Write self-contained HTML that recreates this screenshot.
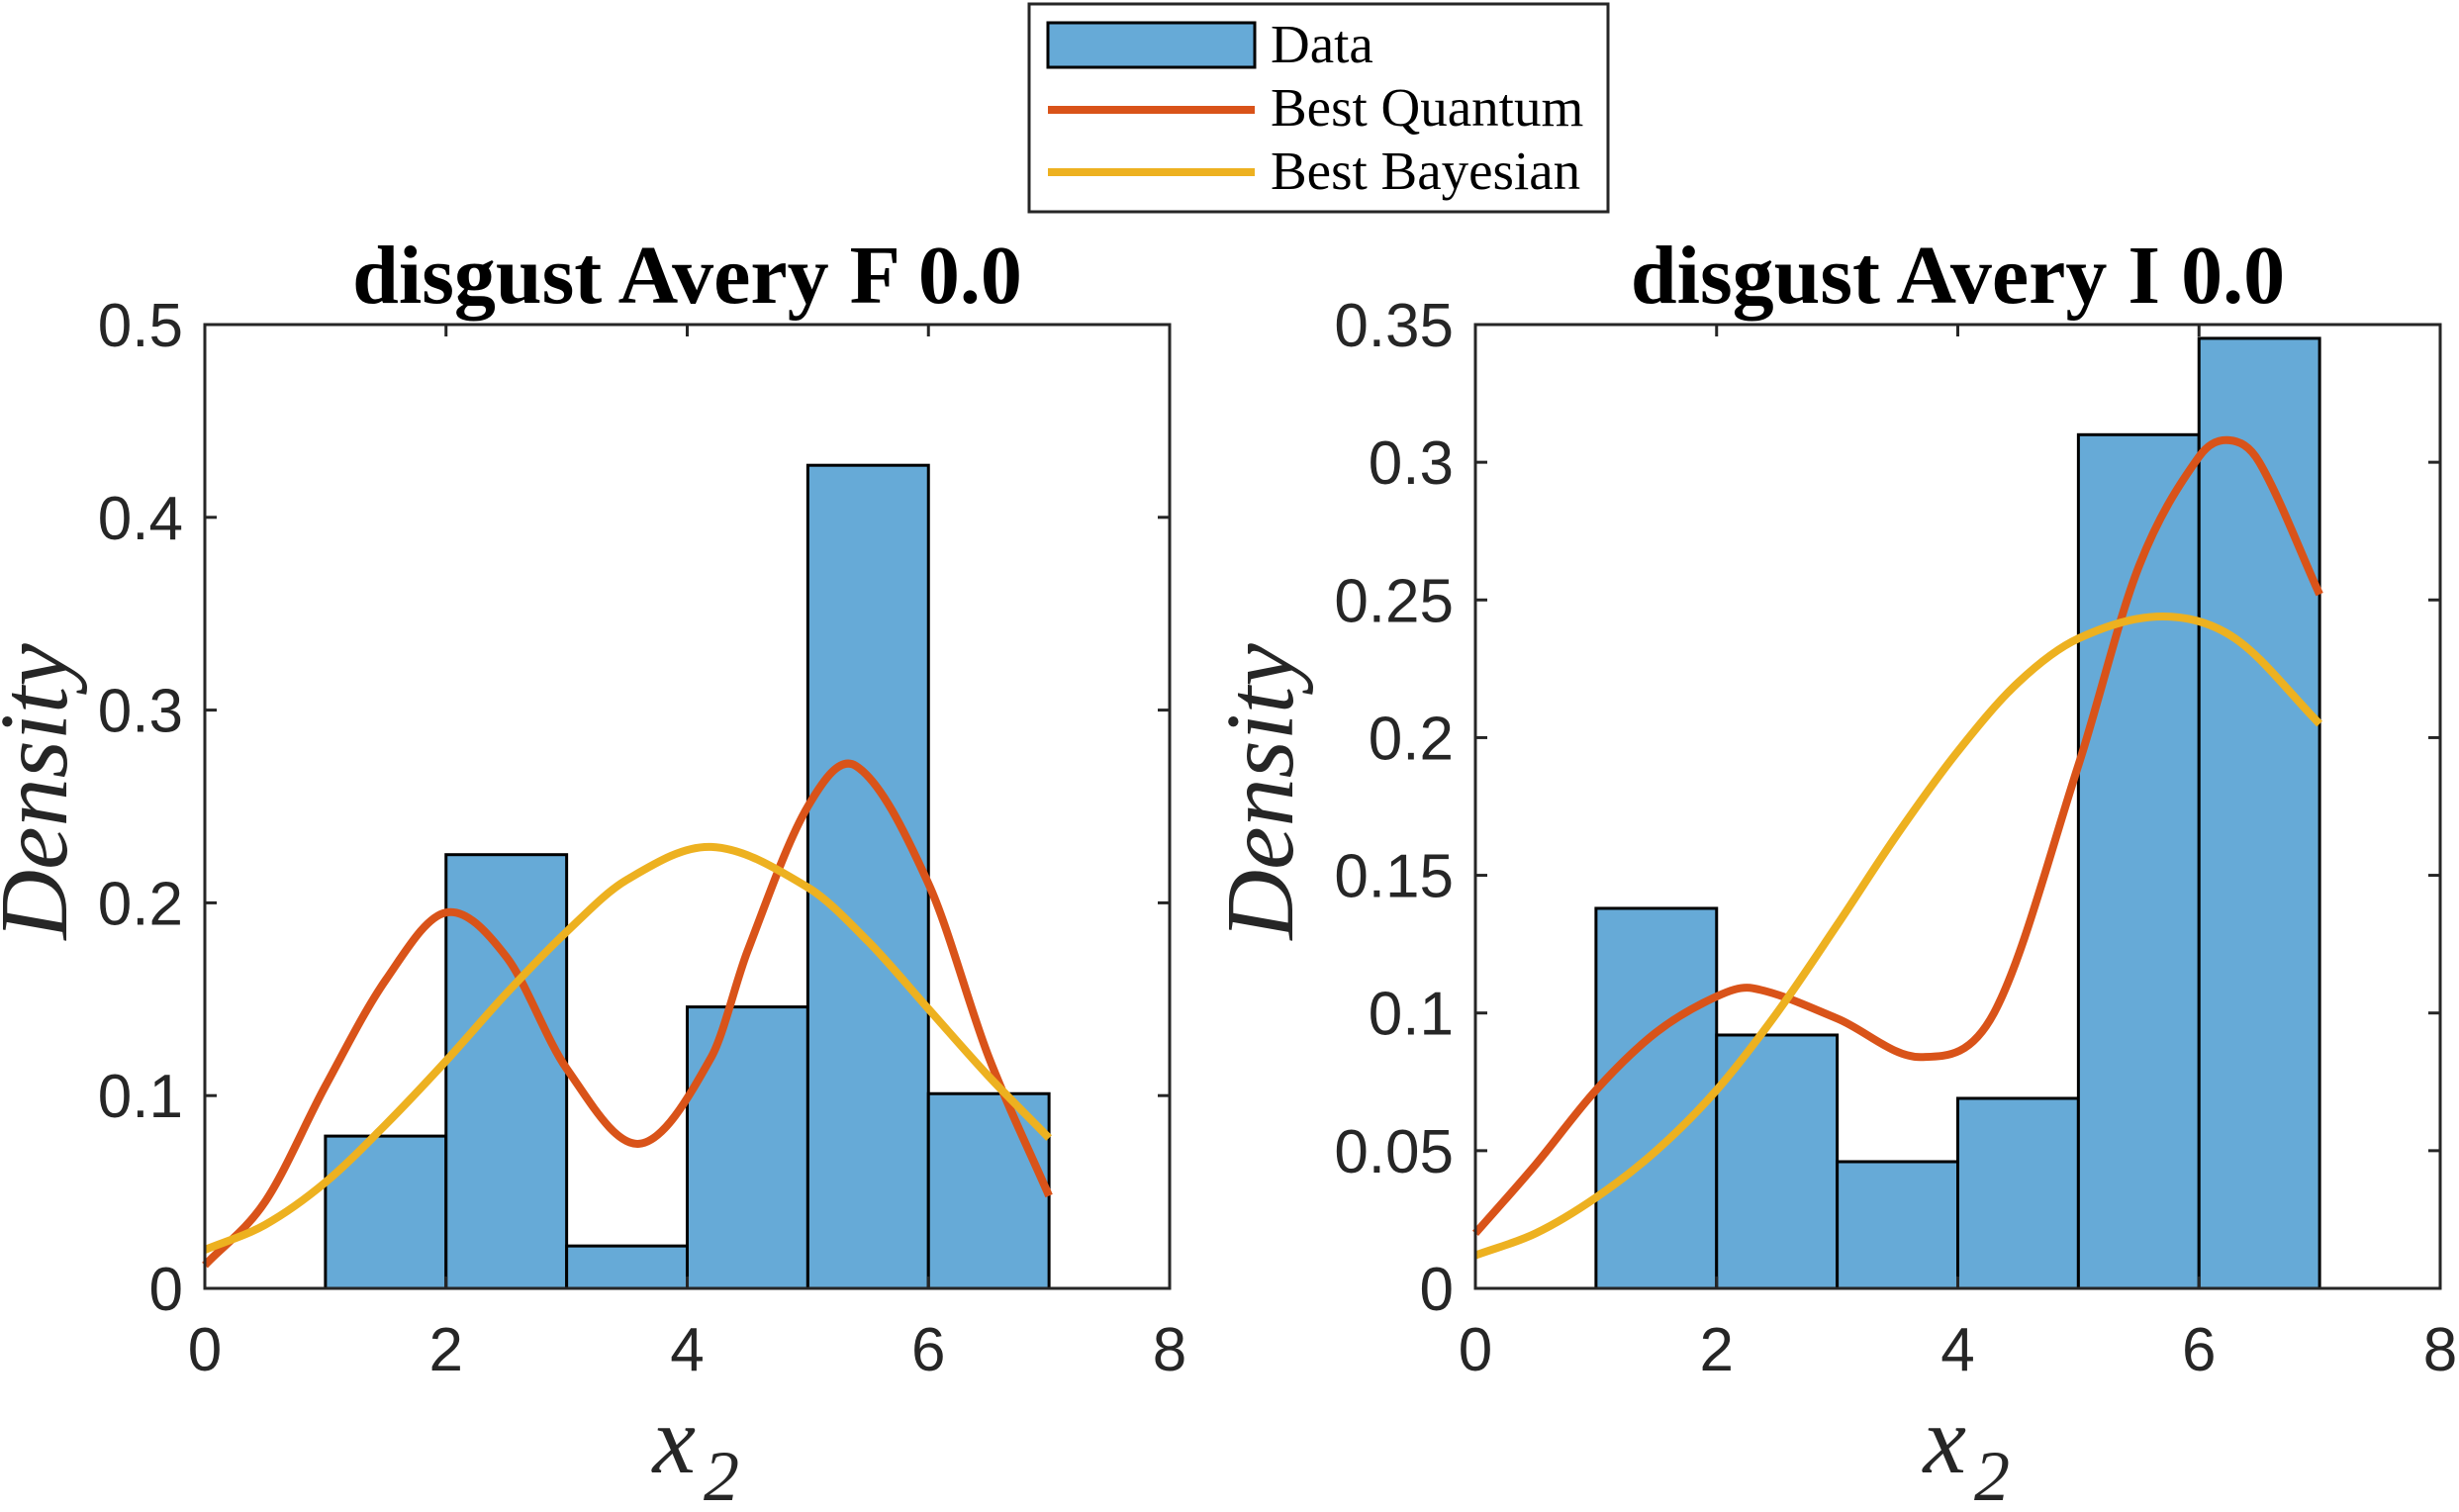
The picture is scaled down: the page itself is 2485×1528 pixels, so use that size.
<!DOCTYPE html>
<html><head><meta charset="utf-8"><style>
html,body{margin:0;padding:0;background:#fff;}
svg{display:block;}
</style></head><body>
<svg id="fig" width="2485" height="1528" viewBox="0 0 2485 1528" xmlns="http://www.w3.org/2000/svg">
<rect width="2485" height="1528" fill="#fff"/>
<g>
<rect x="1040" y="4" width="585" height="210" fill="#fff" stroke="#262626" stroke-width="3"/>
<rect x="1059" y="23" width="209" height="45" fill="#66aad7" stroke="#000" stroke-width="3"/>
<text x="1284" y="63" font-family="Liberation Serif, serif" font-size="55">Data</text>
<line x1="1059" y1="111" x2="1268" y2="111" stroke="#d95319" stroke-width="8"/>
<text x="1284" y="127" font-family="Liberation Serif, serif" font-size="55">Best Quantum</text>
<line x1="1059" y1="174" x2="1268" y2="174" stroke="#edb120" stroke-width="8"/>
<text x="1284" y="191" font-family="Liberation Serif, serif" font-size="55">Best Bayesian</text>
</g>
<g id="p1"></g>
<g id="p2"></g>
</svg>
<script>
const edges = [1,2,3,4,5,6,7];
const leftBars = [0.079,0.225,0.022,0.146,0.427,0.101];
const rightBars = [0.138,0.092,0.046,0.069,0.310,0.345];
const leftQx = [0,0.5,1,1.5,2,2.5,3,3.6,4.2,4.5,5,5.4,6,6.5,7];
const leftQy = [0.012,0.045,0.105,0.16,0.195,0.172,0.114,0.075,0.12,0.175,0.25,0.271,0.21,0.12,0.048];
const leftBx = [0,0.5,1,1.5,2,2.5,3,3.5,4.2,5,5.5,6,6.5,7];
const leftBy = [0.02,0.033,0.055,0.085,0.118,0.153,0.185,0.212,0.229,0.208,0.18,0.145,0.11,0.078];
const rightQx = [0,0.5,1,1.5,2,2.3,3,3.7,4.3,5,5.5,6,6.25,6.5,7];
const rightQy = [0.02,0.045,0.072,0.093,0.106,0.109,0.098,0.084,0.1,0.19,0.262,0.302,0.308,0.3,0.252];
const rightBx = [0,0.5,1,1.5,2,2.5,3,3.5,4,4.5,5,5.7,6.3,7];
const rightBy = [0.012,0.02,0.033,0.05,0.072,0.1,0.132,0.165,0.195,0.22,0.236,0.244,0.236,0.205];
const xTicks = [0,2,4,6,8];
const leftYTicks = [0,0.1,0.2,0.3,0.4,0.5];
const leftYLabels = ["0","0.1","0.2","0.3","0.4","0.5"];
const rightYTicks = [0,0.05,0.1,0.15,0.2,0.25,0.3,0.35];
const rightYLabels = ["0","0.05","0.1","0.15","0.2","0.25","0.3","0.35"];

const NS="http://www.w3.org/2000/svg";
function mk(tag,attrs,parent){const e=document.createElementNS(NS,tag);for(const k in attrs)e.setAttribute(k,attrs[k]);parent.appendChild(e);return e;}
function hermite(xs,ys,X,Y){
  const n=xs.length,m=[];
  for(let i=0;i<n;i++){
    const a=Math.max(0,i-1),b=Math.min(n-1,i+1);
    m.push((ys[b]-ys[a])/(xs[b]-xs[a]));
  }
  let d="M"+X(xs[0])+","+Y(ys[0]);
  for(let i=0;i<n-1;i++){
    const h=xs[i+1]-xs[i];
    const c1x=xs[i]+h/3,c1y=ys[i]+m[i]*h/3;
    const c2x=xs[i+1]-h/3,c2y=ys[i+1]-m[i+1]*h/3;
    d+=" C"+X(c1x)+","+Y(c1y)+" "+X(c2x)+","+Y(c2y)+" "+X(xs[i+1])+","+Y(ys[i+1]);
  }
  return d;
}
function panel(g,L,title,ymax,bars,yt,yl,qx,qy,bx,by,pfx,dOff){
  const T=328,B=1302,R=L+975,W=975,H=B-T;
  const X=v=>L+v/8*W, Y=v=>B-v/ymax*H;
  let t=mk('text',{x:(L+R)/2,y:306,'text-anchor':'middle','font-family':'Liberation Serif, serif','font-weight':'bold','font-size':84,fill:'#000'},g);
  t.textContent=title;
  
  
  for(let i=0;i<bars.length;i++){
    const r=mk('rect',{x:X(edges[i]),y:Y(bars[i]),width:X(edges[i+1])-X(edges[i]),height:B-Y(bars[i]),fill:'#66aad7',stroke:'#000','stroke-width':3},g);
    
    
  }
  const q=mk('path',{d:hermite(qx,qy,X,Y),fill:'none',stroke:'#d95319','stroke-width':8},g);
  
  
  const b=mk('path',{d:hermite(bx,by,X,Y),fill:'none',stroke:'#edb120','stroke-width':8},g);
  
  
  const ax=mk('rect',{x:L,y:T,width:W,height:H,fill:'none',stroke:'#262626','stroke-width':3},g);
  
  
  xTicks.forEach(v=>{
    mk('line',{x1:X(v),y1:B,x2:X(v),y2:B-12,stroke:'#262626','stroke-width':3},g);
    mk('line',{x1:X(v),y1:T,x2:X(v),y2:T+12,stroke:'#262626','stroke-width':3},g);
    const l=mk('text',{x:X(v),y:1385,'text-anchor':'middle','font-family':'Liberation Sans, sans-serif','font-size':62,fill:'#262626'},g);
    l.textContent=v;
    
    
  });
  yt.forEach((v,i)=>{
    mk('line',{x1:L,y1:Y(v),x2:L+12,y2:Y(v),stroke:'#262626','stroke-width':3},g);
    mk('line',{x1:R,y1:Y(v),x2:R-12,y2:Y(v),stroke:'#262626','stroke-width':3},g);
    const l=mk('text',{x:L-22,y:Y(v)+22,'text-anchor':'end','font-family':'Liberation Sans, sans-serif','font-size':62,fill:'#262626'},g);
    l.textContent=yl[i];
    
    
  });
  const yl2=mk('text',{x:0,y:0,transform:'translate('+(L-dOff)+',800) rotate(-90)','text-anchor':'middle','font-family':'Liberation Serif, serif','font-style':'italic','font-size':98,fill:'#262626'},g);
  yl2.textContent='Density';
  
  
  const xl=mk('text',{x:(L+R)/2-35,y:1488,'font-family':'Liberation Serif, serif','font-style':'italic','font-size':98,fill:'#262626'},g);
  
  
  xl.innerHTML='x<tspan dx="8" dy="28" font-size="72">2</tspan>';
}
panel(document.getElementById('p1'),207,'disgust Avery F 0.0',0.5,leftBars,leftYTicks,leftYLabels,leftQx,leftQy,leftBx,leftBy,'left',140);
panel(document.getElementById('p2'),1491,'disgust Avery I 0.0',0.35,rightBars,rightYTicks,rightYLabels,rightQx,rightQy,rightBx,rightBy,'right',185);
</script>
</body></html>
